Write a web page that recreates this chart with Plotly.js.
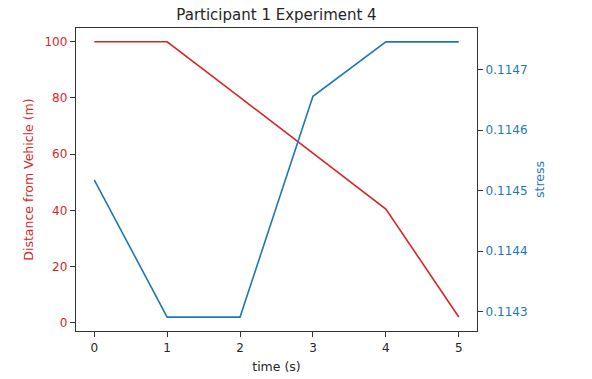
<!DOCTYPE html>
<html>
<head>
<meta charset="utf-8">
<script src="https://cdn.plot.ly/plotly-3.0.1.min.js"></script>
<style>
  html, body { margin: 0; padding: 0; background: #fff; }
  #chart { width: 592px; height: 379px; }
</style>
</head>
<body>
<div id="chart"></div>
<script>
// 시간(초)
const timeSec = [0, 1, 2, 3, 4, 5];
// 차량과의 거리 (m)
const distance = [100, 100, 80.2, 60.3, 40.5, 2.1];
// 스트레스 값
const stress = [0.114518, 0.114291, 0.114291, 0.114656, 0.114746, 0.114746];

const leftTicks = [0, 20, 40, 60, 80, 100];
const rightTicks = [0.1143, 0.1144, 0.1145, 0.1146, 0.1147];
const xTicks = [0, 1, 2, 3, 4, 5];

const RED = '#d62728';
const BLUE = '#1f77b4';
const FONT = 'DejaVu Sans, sans-serif';

const traces = [
    {
        x: timeSec, y: distance, type: 'scatter', mode: 'lines',
        line: { color: RED, width: 1.6 }, yaxis: 'y', hoverinfo: 'skip'
    },
    {
        x: timeSec, y: stress, type: 'scatter', mode: 'lines',
        line: { color: BLUE, width: 1.6 }, yaxis: 'y2', hoverinfo: 'skip'
    }
];

const layout = {
    width: 592,
    height: 379,
    paper_bgcolor: '#fff',
    plot_bgcolor: '#fff',
    showlegend: false,
    margin: { l: 76, r: 115, t: 28, b: 48 },
    font: { family: FONT, size: 12, color: '#262626' },
    title: {
        text: 'Participant 1 Experiment 4',
        font: { family: FONT, size: 15, color: '#262626' },
        x: 0.5, xref: 'paper', xanchor: 'center',
        y: 1 - 15 / 379, yref: 'container', yanchor: 'middle'
    },
    xaxis: {
        range: [-0.25, 5.25],
        tickvals: xTicks,
        ticktext: xTicks.map(String),
        showgrid: false, zeroline: false,
        showline: true, linecolor: '#333', linewidth: 1.2, mirror: true,
        ticks: 'outside', ticklen: 5, tickcolor: '#333',
        tickfont: { family: FONT, size: 12, color: '#262626' },
        title: { text: 'time (s)', font: { family: FONT, size: 12.5, color: '#262626' }, standoff: 8 }
    },
    yaxis: {
        range: [-2.9, 104.9],
        tickvals: leftTicks,
        ticktext: leftTicks.map(String),
        showgrid: false, zeroline: false,
        showline: true, linecolor: '#333', linewidth: 1.2,
        ticks: 'outside', ticklen: 5, tickcolor: '#333',
        tickfont: { family: FONT, size: 12, color: RED },
        title: { text: 'Distance from Vehicle (m)', font: { family: FONT, size: 12.5, color: RED }, standoff: 8 }
    },
    yaxis2: {
        overlaying: 'y',
        side: 'right',
        range: [0.114268, 0.114769],
        tickvals: rightTicks,
        ticktext: rightTicks.map(v => v.toFixed(4)),
        showgrid: false, zeroline: false,
        showline: true, linecolor: '#333', linewidth: 1.2,
        ticks: 'outside', ticklen: 5, tickcolor: '#333',
        tickfont: { family: FONT, size: 12, color: BLUE },
        title: { text: 'stress', font: { family: FONT, size: 12.5, color: BLUE }, standoff: 8 }
    }
};

Plotly.newPlot('chart', traces, layout, { displayModeBar: false, staticPlot: true });
</script>
</body>
</html>
